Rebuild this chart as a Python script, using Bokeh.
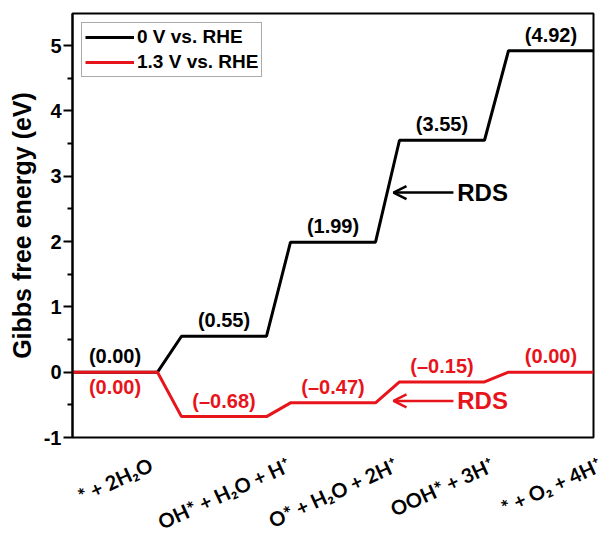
from bokeh.plotting import figure
from bokeh.layouts import column
from bokeh.models import (Range1d, FixedTicker, Legend, LegendItem, Arrow, OpenHead,
                          Label, LabelSet, ColumnDataSource)
from bokeh.core.properties import value
from bokeh.embed import file_html
from bokeh.resources import INLINE
import numpy as np

# ---- data ----
steps = ["* + 2H\u2082O", "OH* + H\u2082O + H\u207a", "O* + H\u2082O + 2H\u207a",
         "OOH* + 3H\u207a", "* + O\u2082 + 4H\u207a"]
g_0V = [0.00, 0.55, 1.99, 3.55, 4.92]
g_13V = [0.00, -0.68, -0.47, -0.15, 0.00]
series_names = ["0 V vs. RHE", "1.3 V vs. RHE"]
y_ticks = [-1, 0, 1, 2, 3, 4, 5]
rds_0V = 2.75      # y level of the RDS arrow (0 V)
rds_13V = -0.44    # y level of the RDS arrow (1.3 V)

LEVEL = 0.78  # length of each horizontal level (x units)
FONT = "Liberation Sans"
XFONT = "Lato"
XSIZE = 20
ANG = 0.43
RED = "#e8141b"
FW, FH = 521, 424            # frame size
BL, BR, BT, BB = 72, 13, 13, 12   # borders of the main plot
W_TOT, H_TOT = 606, 537
XMAX = len(steps) - 1 + LEVEL

idx = np.arange(len(steps))
centers = idx + LEVEL / 2


def profile(vals):
    xs = np.ravel(np.column_stack([idx, idx + LEVEL]))
    ys = np.repeat(vals, 2)
    return xs, ys


# approximate advance widths (em) used to place the rotated category labels
_W = {"O": 0.80, "H": 0.76, "*": 0.45, " ": 0.20, "+": 0.58,
      "\u2082": 0.40, "\u207a": 0.40}


def text_len(s):
    return sum(_W.get(ch, 0.58) for ch in s) * XSIZE


p = figure(width=W_TOT, height=BT + FH + BB, output_backend="svg", toolbar_location=None,
           x_range=Range1d(0, XMAX), y_range=Range1d(-1, 5.49), x_axis_location=None,
           min_border_left=BL, min_border_right=BR, min_border_top=BT, min_border_bottom=BB)
p.frame_align = False
p.grid.visible = False
p.outline_line_color = "black"
p.outline_line_width = 2
p.background_fill_color = "white"
p.border_fill_color = "white"

xb, yb = profile(g_0V)
xr, yr = profile(g_13V)
lb = p.line(xb, yb, line_color="black", line_width=3)
lr = p.line(xr, yr, line_color=RED, line_width=3)


def fmt(v):
    s = f"({abs(v):.2f})"
    return s.replace("(", "(\u2013") if v < 0 else s


src_b = ColumnDataSource(dict(x=centers, y=g_0V, t=[fmt(v) for v in g_0V]))
p.add_layout(LabelSet(x="x", y="y", text="t", source=src_b, text_align="center",
                      text_baseline="bottom", y_offset=5, text_font=value(FONT),
                      text_font_style="bold", text_font_size="20px", text_color="black"))
red_above = list(g_13V[1:])
src_r = ColumnDataSource(dict(x=centers[1:], y=red_above, t=[fmt(v) for v in red_above]))
p.add_layout(LabelSet(x="x", y="y", text="t", source=src_r, text_align="center",
                      text_baseline="bottom", y_offset=5, text_font=value(FONT),
                      text_font_style="bold", text_font_size="20px", text_color=RED))
p.add_layout(Label(x=centers[0], y=g_13V[0], text=fmt(g_13V[0]), text_align="center",
                   text_baseline="top", y_offset=-4, text_font=FONT,
                   text_font_style="bold", text_font_size="20px", text_color=RED))

# RDS arrows
for yv, col in [(rds_0V, "black"), (rds_13V, RED)]:
    p.add_layout(Arrow(end=OpenHead(size=13, line_width=2.5, line_color=col),
                       x_start=3.495, y_start=yv, x_end=2.945, y_end=yv,
                       line_color=col, line_width=2.5))
    p.add_layout(Label(x=3.53, y=yv, text="RDS", text_baseline="middle",
                       text_font=FONT, text_font_style="bold", text_font_size="24px",
                       text_color=col))

p.yaxis.ticker = FixedTicker(ticks=y_ticks, minor_ticks=list(np.arange(-0.5, 5.5, 1.0)))
p.yaxis.major_label_overrides = {t: str(t) for t in y_ticks}
p.yaxis.axis_label = "Gibbs free energy (eV)"
p.yaxis.axis_label_text_font = FONT
p.yaxis.axis_label_text_font_style = "bold"
p.yaxis.axis_label_text_font_size = "25px"
p.yaxis.axis_label_text_color = "black"
p.yaxis.axis_label_standoff = 5
p.yaxis.major_label_text_font = FONT
p.yaxis.major_label_text_font_style = "bold"
p.yaxis.major_label_text_font_size = "20px"
p.yaxis.major_label_text_color = "black"
p.yaxis.major_label_standoff = 2
p.yaxis.axis_line_width = 2
p.yaxis.major_tick_line_width = 2
p.yaxis.minor_tick_line_width = 2
p.yaxis.major_tick_in = 0
p.yaxis.major_tick_out = 9
p.yaxis.minor_tick_in = 0
p.yaxis.minor_tick_out = 5

legend = Legend(items=[LegendItem(label=series_names[0], renderers=[lb]),
                       LegendItem(label=series_names[1], renderers=[lr])],
                location="top_left", margin=9, padding=3, spacing=3,
                glyph_width=49, glyph_height=22, label_standoff=3, label_height=22,
                label_text_font=FONT, label_text_font_style="bold",
                label_text_color="black",
                label_text_font_size="19px", border_line_color="#555555",
                border_line_width=1, background_fill_alpha=1)
p.add_layout(legend)

# ---- category labels: a strip below the plot using the same x scale ----
scale = FW / XMAX
p2 = figure(width=W_TOT, height=H_TOT - (BT + FH + BB), output_backend="svg",
            toolbar_location=None,
            x_range=Range1d(-BL / scale, XMAX + BR / scale), y_range=Range1d(0, 1),
            x_axis_location=None, y_axis_location=None,
            min_border_left=0, min_border_right=0, min_border_top=0, min_border_bottom=0)
p2.frame_align = False
p2.grid.visible = False
p2.outline_line_color = None
p2.background_fill_color = "white"
p2.border_fill_color = "white"

h = 1.2 * XSIZE
yoff = [3 + (text_len(s) * np.sin(ANG) + h * np.cos(ANG)) / 2 for s in steps]
src_x = ColumnDataSource(dict(x=centers, y=[1.0] * len(steps), t=steps, yo=yoff))
p2.text(x="x", y="y", text="t", y_offset="yo", source=src_x,
        angle=ANG, text_align="center", text_baseline="middle",
        text_font=value(XFONT), text_font_style="bold",
        text_font_size=f"{XSIZE}px", text_color="black")

layout = column(p, p2, spacing=0)
open("out.html", "w").write(file_html(layout, INLINE))
